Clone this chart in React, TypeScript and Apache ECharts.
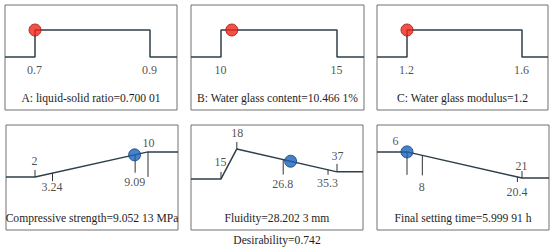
import React, { useEffect, useRef } from "react";
import * as echarts from "echarts";

// ---------- data ----------
const factorNames = ["A: liquid-solid ratio", "B: Water glass content", "C: Water glass modulus"];
const factorValueText = ["0.700 01", "10.466 1%", "1.2"];
const factorValues = [0.70001, 10.4661, 1.2];
const factorLow = [0.7, 10, 1.2];
const factorHigh = [0.9, 15, 1.6];
const factorTickLabels = [["0.7", "0.9"], ["10", "15"], ["1.2", "1.6"]];

const responseNames = ["Compressive strength", "Fluidity", "Final setting time"];
const responseValueText = ["9.052 13 MPa", "28.202 3 mm", "5.999 91 h"];
const responseValues = [9.05213, 28.2023, 5.99991];
// desirability ramp break points (x) and their levels (d)
const compX = [2, 10];
const compD = [0, 0.93];
const fluidX = [15, 18, 37];
const fluidD = [-0.07, 1.04, 0.19];
const finalX = [6, 21];
const finalD = [0.93, -0.04];
const compTicks = [2, 3.24, 9.09, 10];
const fluidTicks = [15, 18, 26.8, 35.3, 37];
const finalTicks = [6, 8, 20.4, 21];
const desirabilityText = "Desirability=0.742";

// ---------- layout / style ----------
const PANELS = [
  { left: 5, top: 5, width: 172, padL: 30, padR: 27 },
  { left: 191, top: 5, width: 173, padL: 30, padR: 27 },
  { left: 377, top: 5, width: 171, padL: 30, padR: 26 },
  { left: 6, top: 125, width: 172, padL: 29, padR: 30 },
  { left: 191, top: 125, width: 172, padL: 30, padR: 26 },
  { left: 377, top: 125, width: 172, padL: 30, padR: 27 },
];
const PANEL_H = 105;
const ZERO_PX = 52;
const PX_PER_UNIT = 27;
const TOP_TITLE_Y = 98;
const BOTTOM_TITLE_Y = 218;
const FONT = "'Liberation Serif', 'Times New Roman', serif";
const TEXT = "#1e1e1e";
const BORDER = "#707070";
const CURVE = "#2e3f49";

// tick layouts (px, positive = downward) per response tick
const tickLayout = [
  [
    { t: [-7, 0], l: -16, dx: 0 },
    { t: [0, 8], l: 14, dx: 0 },
    { t: [0, 18], l: 28, dx: 0 },
    { t: [0, 25], l: -8, dx: 1 },
  ],
  [
    { t: [-7, 0], l: -16, dx: 0 },
    { t: [-7, 0], l: -15, dx: 1 },
    { t: [0, 15], l: 25, dx: 0 },
    { t: [0, 5], l: 14, dx: 0 },
    { t: [-8, 0], l: -15, dx: 1 },
  ],
  [
    { t: [0, 23], l: -10, dx: -11 },
    { t: [0, 20], l: 32, dx: 0 },
    { t: [0, 5], l: 15, dx: 0 },
    { t: [-7, 0], l: -12, dx: 0 },
  ],
];

function evalCurve(xs: number[], ds: number[], x: number) {
  if (x <= xs[0]) return ds[0];
  if (x >= xs[xs.length - 1]) return ds[ds.length - 1];
  for (let i = 0; i < xs.length - 1; i++) {
    if (x >= xs[i] && x <= xs[i + 1]) {
      const f = (x - xs[i]) / (xs[i + 1] - xs[i]);
      return ds[i] + f * (ds[i + 1] - ds[i]);
    }
  }
  return ds[ds.length - 1];
}

const px2u = (px: number) => -px / PX_PER_UNIT;

function buildOption() {
  const grid: any[] = [];
  const xAxis: any[] = [];
  const yAxis: any[] = [];
  const series: any[] = [];
  const graphic: any[] = [];
  const yMax = ZERO_PX / PX_PER_UNIT;
  const yMin = -(PANEL_H - ZERO_PX) / PX_PER_UNIT;

  const addAxes = (i: number, lo: number, hi: number) => {
    const p = PANELS[i];
    const s = (hi - lo) / (p.width - p.padL - p.padR);
    const min = lo - p.padL * s;
    const max = hi + p.padR * s;
    grid.push({
      left: p.left, top: p.top, width: p.width, height: PANEL_H,
      show: true, borderColor: BORDER, borderWidth: 1, backgroundColor: "transparent",
    });
    xAxis.push({ type: "value", gridIndex: i, min, max, show: false });
    yAxis.push({ type: "value", gridIndex: i, min: yMin, max: yMax, show: false });
    return [min, max];
  };

  const labelSeries = (i: number, items: any[]) => ({
    type: "scatter", xAxisIndex: i, yAxisIndex: i, symbolSize: 1, silent: true, z: 5,
    itemStyle: { color: "rgba(255,255,255,0)" },
    label: {
      show: true, position: [0, 0], align: "center", verticalAlign: "middle",
      formatter: "{b}", color: TEXT, fontSize: 12, fontFamily: FONT,
      textBorderWidth: 0, textShadowBlur: 0,
    },
    data: items,
  });

  const title = (x: number, y: number, text: string) => ({
    type: "text", x, y, silent: true,
    style: { text, fill: TEXT, fontSize: 11.6, fontFamily: FONT, align: "center", verticalAlign: "middle", textAlign: "center", textVerticalAlign: "middle" },
  });

  // factor panels
  for (let k = 0; k < 3; k++) {
    const lo = factorLow[k], hi = factorHigh[k];
    const [min, max] = addAxes(k, lo, hi);
    series.push({
      type: "line", xAxisIndex: k, yAxisIndex: k, symbol: "none", silent: true,
      lineStyle: { color: CURVE, width: 1.5 },
      data: [[min, 0], [lo, 0], [lo, 1], [hi, 1], [hi, 0], [max, 0]],
    });
    series.push({
      type: "scatter", xAxisIndex: k, yAxisIndex: k, symbolSize: 12, silent: true, z: 10,
      itemStyle: { color: "#f0241a", borderColor: "#a8120a", borderWidth: 1 },
      data: [[factorValues[k], 1]],
    });
    series.push(labelSeries(k, [
      { value: [lo, px2u(13)], name: factorTickLabels[k][0] },
      { value: [hi, px2u(13)], name: factorTickLabels[k][1] },
    ]));
    const p = PANELS[k];
    graphic.push(title(p.left + p.width / 2, TOP_TITLE_Y, `${factorNames[k]}=${factorValueText[k]}`));
  }

  // response panels
  const curves = [
    { xs: compX, ds: compD, ticks: compTicks },
    { xs: fluidX, ds: fluidD, ticks: fluidTicks },
    { xs: finalX, ds: finalD, ticks: finalTicks },
  ];
  for (let k = 0; k < 3; k++) {
    const gi = k + 3;
    const { xs, ds, ticks } = curves[k];
    const [min, max] = addAxes(gi, xs[0], xs[xs.length - 1]);
    series.push({
      type: "line", xAxisIndex: gi, yAxisIndex: gi, symbol: "none", silent: true,
      lineStyle: { color: CURVE, width: 1.5 },
      data: [[min, ds[0]], ...xs.map((x, j) => [x, ds[j]]), [max, ds[ds.length - 1]]],
    });
    const labels: any[] = [];
    ticks.forEach((t, j) => {
      const lay = tickLayout[k][j];
      const base = evalCurve(xs, ds, t);
      series.push({
        type: "line", xAxisIndex: gi, yAxisIndex: gi, symbol: "none", silent: true, z: 3,
        lineStyle: { color: "#333", width: 1 },
        data: [[t, base + px2u(lay.t[0])], [t, base + px2u(lay.t[1])]],
      });
      labels.push({ value: [t, base + px2u(lay.l)], name: String(t), label: { offset: [lay.dx, 0] } });
    });
    series.push(labelSeries(gi, labels));
    const v = responseValues[k];
    series.push({
      type: "scatter", xAxisIndex: gi, yAxisIndex: gi, symbolSize: 12, silent: true, z: 10,
      itemStyle: { color: "#1a62b8", borderColor: "#0d3f7e", borderWidth: 1 },
      data: [[v, evalCurve(xs, ds, v)]],
    });
    const p = PANELS[gi];
    graphic.push(title(p.left + p.width / 2, BOTTOM_TITLE_Y, `${responseNames[k]}=${responseValueText[k]}`));
  }

  graphic.push(title(277, 240, desirabilityText));

  return {
    animation: false,
    backgroundColor: "#fff",
    textStyle: { fontFamily: FONT },
    grid, xAxis, yAxis, series, graphic,
  };
}

export default function App() {
  const ref = useRef<HTMLDivElement>(null);
  useEffect(() => {
    const chart = echarts.init(ref.current!, null, { renderer: "svg" });
    chart.setOption(buildOption() as any);
    return () => chart.dispose();
  }, []);
  return (
    <div
      ref={ref}
      style={{ position: "fixed", left: 0, top: 0, width: 554, height: 249, background: "#fff" }}
    />
  );
}
